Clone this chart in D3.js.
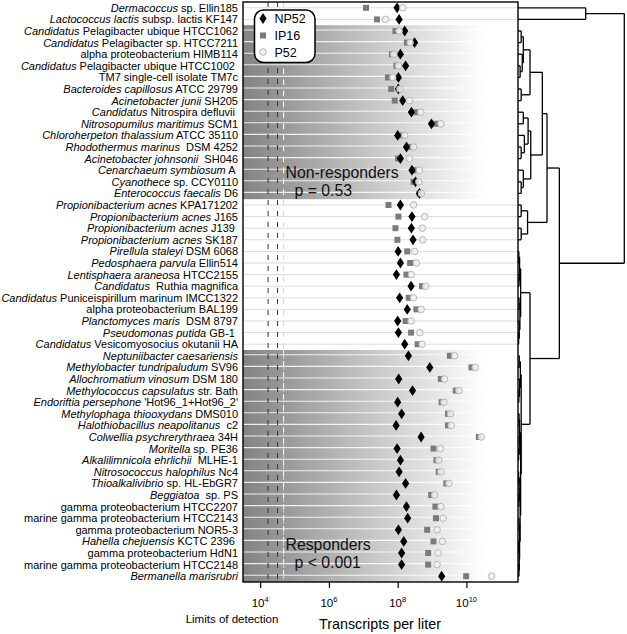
<!DOCTYPE html>
<html><head><meta charset="utf-8">
<script src="https://cdn.jsdelivr.net/npm/d3@7"></script>
<style>
body{margin:0;background:#fff;}
svg{display:block;font-family:"Liberation Sans",Arial,Helvetica,sans-serif;}
text{white-space:pre;}
</style>
</head><body>
<svg id="chart" width="627" height="634"></svg>
<script>
// ---------- data ----------
const labelItalic = [
 "Dermacoccus","Lactococcus lactis","Candidatus","Candidatus","",
 "Candidatus","","Bacteroides capillosus","Acinetobacter junii","Candidatus",
 "Nitrosopumilus maritimus","Chloroherpeton thalassium","Rhodothermus marinus","Acinetobacter johnsonii","Cenarchaeum symbiosum",
 "Cyanothece","Enterococcus faecalis","Propionibacterium acnes","Propionibacterium acnes","Propionibacterium acnes",
 "Propionibacterium acnes","Pirellula staleyi","Pedosphaera parvula","Lentisphaera araneosa","Candidatus",
 "Candidatus","","Planctomyces maris","Pseudomonas putida","Candidatus",
 "Neptuniibacter caesariensis","Methylobacter tundripaludum","Allochromatium vinosum","Methylococcus capsulatus","Endoriftia persephone",
 "Methylophaga thiooxydans","Halothiobacillus neapolitanus","Colwellia psychrerythraea","Moritella","Alkalilimnicola ehrlichii",
 "Nitrosococcus halophilus","Thioalkalivibrio","Beggiatoa","","",
 "","Hahella chejuensis","","","Bermanella marisrubri"
];
const labelRoman = [
 " sp. Ellin185"," subsp. lactis KF147"," Pelagibacter ubique HTCC1062"," Pelagibacter sp. HTCC7211","alpha proteobacterium HIMB114",
 " Pelagibacter ubique HTCC1002 ","TM7 single-cell isolate TM7c"," ATCC 29799"," SH205"," Nitrospira defluvii ",
 " SCM1"," ATCC 35110","  DSM 4252","  SH046"," A ",
 " sp. CCY0110"," D6"," KPA171202"," J165"," J139 ",
 " SK187"," DSM 6068"," Ellin514"," HTCC2155","  Ruthia magnifica",
 " Puniceispirillum marinum IMCC1322","alpha proteobacterium BAL199","  DSM 8797"," GB-1 "," Vesicomyosocius okutanii HA",
 ""," SV96"," DSM 180"," str. Bath"," 'Hot96_1+Hot96_2'",
 " DMS010","  c2"," 34H"," sp. PE36","  MLHE-1",
 " Nc4"," sp. HL-EbGR7","  sp. PS","gamma proteobacterium HTCC2207","marine gamma proteobacterium HTCC2143",
 "gamma proteobacterium NOR5-3"," KCTC 2396 ","gamma proteobacterium HdN1","marine gamma proteobacterium HTCC2148",""
];
const seriesNames = ["NP52","IP16","P52"];
const np52 = [
 9.6e7,1.1e8,1.6e8,3.1e8,1.2e8,1.7e8,1.05e8,1.05e8,1.4e8,2.5e8,
 9.6e8,1.0e8,1.8e8,1.2e8,2.6e8,3.3e8,4.3e8,1.2e8,2.6e8,2.5e8,
 2.8e8,1.03e8,1.2e8,9.2e7,2.45e8,1.14e8,1.9e8,1.0e8,1.05e8,1.6e8,
 2.05e8,8.6e8,1.07e8,2.7e8,1.0e8,1.3e8,9.0e7,4.8e8,9.6e7,1.2e8,
 1.1e8,1.7e8,9.2e7,1.8e8,1.95e8,1.05e8,1.5e8,1.3e8,1.3e8,1.9e9
];
const ip16 = [
 1.2e7,2.5e7,8.6e7,1.85e8,6.8e7,9.2e7,5.2e7,6.5e7,8.2e7,3.3e8,
 1.3e9,1.3e8,2.5e8,1.03e8,2.9e8,2.9e8,4.3e8,5.4e7,1.05e8,8.6e7,
 9.8e7,1.9e8,2.3e8,1.8e8,5.1e8,2.1e8,3.5e8,1.7e8,2.45e8,3.8e8,
 3.3e9,1.4e10,1.8e9,4.9e9,1.9e9,2.9e9,2.9e9,2.3e10,1.1e9,1.34e9,
 1.56e9,2.6e9,9.4e8,1.25e9,1.3e9,7.2e8,1.1e9,7.7e8,7.7e8,9.8e9
];
const p52 = [
 1.4e8,4.4e7,1.1e8,2.3e8,7.7e7,1.05e8,7.2e7,1.16e8,2.2e8,4.7e8,
 1.8e9,1.6e8,2.9e8,2.2e8,4.3e8,4.1e8,4.9e8,2.9e8,6.1e8,5.2e8,
 5.3e8,3.1e8,3.5e8,2.5e8,6.5e8,2.85e8,4.8e8,2.45e8,4.4e8,5.1e8,
 4.5e9,1.8e10,2.3e9,6.0e9,2.2e9,3.4e9,3.6e9,2.7e10,1.75e9,1.56e9,
 1.8e9,3.1e9,1.17e9,1.8e9,2.1e9,1.4e9,2.0e9,1.5e9,1.4e9,5.4e10
];
const groupNames = ["Non-responders","Responders"];
const groupP = ["p = 0.53","p < 0.001"];
const groupFirst = [2,30];
const groupLast = [16,49];
const tickValues = [1e4,1e6,1e8,1e10];
const tickExponents = ["4","6","8","10"];
const detectionLimits = [1.7e4,3.2e4,4.8e4];
// dendrogram: [height, child, child...]; integers are row indices
const tree = [1.0,
  [0.637, 0, 1],
  [0.389,
    [0.273,
      [0.229,
        [0.113,
          [0.05, [0.03, 2, 3], [0.04, 4, [0.02, 5, 6]]],
          [0.03, 7, 8]],
        [0.12,
          [0.095, [0.05, 9, 10], [0.06, 11, [0.03, 12, 13]]],
          [0.05, 14, [0.03, 15, 16]]]],
      [0.09, [0.03, 17, 18], [0.03, 19, 20]]],
    [0.113,
      [0.025, [0.015, [0.008, 21, 22], [0.01, 23, 24]], [0.018, [0.01, 25, 26], [0.012, 27, [0.006, 28, 29]]]],
      [0.03,
        [0.022, [0.012, 30, 31], [0.015, 32, [0.008, 33, 34]]],
        [0.025,
          [0.015, [0.01, 35, 36], [0.012, 37, [0.006, 38, 39]]],
          [0.02, [0.012, [0.006, 40, 41], [0.008, 42, 43]],
                 [0.015, [0.01, 44, 45], [0.012, [0.006, 46, 47], [0.009, 48, 49]]]]]]]]];

// ---------- layout ----------
const L = 243, R = 518, T = 2, B = 582;
const svg = d3.select("#chart");
const n = labelRoman.length;

const x = d3.scaleLog().domain([Math.pow(10,3.5), Math.pow(10,11.5)]).range([L,R]);
const y = d3.scaleBand().domain(d3.range(n)).range([T,B]);
const yc = i => y(i) + y.bandwidth()/2;
const xTree = d3.scaleLinear().domain([0,1]).range([R, 624.3]);

const defs = svg.append("defs");
const grad = defs.append("linearGradient").attr("id","fade")
  .attr("gradientUnits","userSpaceOnUse").attr("x1",L).attr("x2",R).attr("y1",0).attr("y2",0);
grad.append("stop").attr("offset",0).attr("stop-color","#838383");
grad.append("stop").attr("offset",0.45).attr("stop-color","#c4c4c4");
grad.append("stop").attr("offset",0.88).attr("stop-color","#ffffff");

// row lines (white area)
svg.append("g").selectAll("line").data(d3.range(n)).join("line")
  .attr("x1",L).attr("x2",R).attr("y1",yc).attr("y2",yc)
  .attr("stroke","#dcdcdc").attr("stroke-width",1);

// gradient bands
const inGroup = i => groupFirst.some((f,k)=> i>=f && i<=groupLast[k]);
groupFirst.forEach((f,k)=>{
  svg.append("rect").attr("x",L).attr("width",R-L)
    .attr("y",y(f)).attr("height",y(groupLast[k])+y.bandwidth()-y(f))
    .attr("fill","url(#fade)");
});
svg.append("g").selectAll("line").data(d3.range(n).filter(inGroup)).join("line")
  .attr("x1",L).attr("x2",R).attr("y1",d=>yc(d)-1).attr("y2",d=>yc(d)-1)
  .attr("stroke","#ffffff").attr("stroke-opacity",0.85).attr("stroke-width",1.1);

// detection limit dashed lines
detectionLimits.forEach((v,k)=>{
  svg.append("line").attr("x1",x(v)).attr("x2",x(v)).attr("y1",T).attr("y2",B)
    .attr("stroke", k<2 ? "#333" : "#d4d4d4").attr("stroke-width",1)
    .attr("stroke-dasharray","5,6");
  if(k===2){
    groupFirst.forEach((f,g)=>{
      svg.append("line").attr("x1",x(v)).attr("x2",x(v))
        .attr("y1",y(f)).attr("y2",y(groupLast[g])+y.bandwidth())
        .attr("stroke","#ffffff").attr("stroke-width",1).attr("stroke-dasharray","5,6");
    });
  }
});

// group annotations
groupFirst.forEach((f,k)=>{
  const yb = k===0 ? yc(14)+8 : yc(46)+8.5;
  svg.append("text").attr("x",285.5).attr("y",yb).attr("font-size",15.8).attr("fill","#111").text(groupNames[k]);
  svg.append("text").attr("x",294.5).attr("y",yb+18).attr("font-size",15.8).attr("fill","#111").text(groupP[k]);
});

// markers
const diamond = "M0,-5.4L3.6,0L0,5.4L-3.6,0Z";
const gM = svg.append("g");
gM.selectAll("rect.sq").data(ip16).join("rect").attr("class","sq")
  .attr("x",d=>x(d)-3).attr("y",(d,i)=>yc(i)-3).attr("width",6).attr("height",6)
  .attr("fill","#7b7b7b");
gM.selectAll("path.dm").data(np52).join("path").attr("class","dm")
  .attr("d",diamond).attr("transform",(d,i)=>`translate(${x(d)},${yc(i)})`).attr("fill","#000");
gM.selectAll("circle.ci").data(p52).join("circle").attr("class","ci")
  .attr("cx",d=>x(d)).attr("cy",(d,i)=>yc(i)).attr("r",3.3)
  .attr("fill","#f0f0f0").attr("fill-opacity",0.9).attr("stroke","#b0b0b0").attr("stroke-width",0.9);

// frame
svg.append("rect").attr("x",L).attr("y",T).attr("width",R-L).attr("height",B-T)
  .attr("fill","none").attr("stroke","#000").attr("stroke-width",1.4);

// axis
const axis = d3.axisBottom(x).tickValues(tickValues).tickSize(6).tickFormat("");
const gA = svg.append("g").attr("transform",`translate(0,${B})`).call(axis);
gA.select(".domain").remove();
gA.selectAll(".tick line").attr("stroke","#000").attr("stroke-width",1.2);
tickValues.forEach((v,k)=>{
  const t = svg.append("text").attr("x",x(v)).attr("y",606.5).attr("text-anchor","middle").attr("font-size",11.5);
  t.append("tspan").text("10");
  t.append("tspan").attr("dy",-4.5).attr("font-size",7.5).text(tickExponents[k]);
});
svg.append("text").attr("x",232).attr("y",622.5).attr("text-anchor","middle").attr("font-size",11.5).text("Limits of detection");
svg.append("text").attr("x",380).attr("y",628.5).attr("text-anchor","middle").attr("font-size",14.3).text("Transcripts per liter");

// row labels
const gL = svg.append("g");
d3.range(n).forEach(i=>{
  const t = gL.append("text").attr("x",238).attr("y",yc(i)+4).attr("text-anchor","end").attr("font-size",11).attr("fill","#000");
  if(labelItalic[i]) t.append("tspan").attr("font-style","italic").text(labelItalic[i]);
  if(labelRoman[i]) t.append("tspan").text(labelRoman[i]);
});

// legend
const lg = svg.append("g");
lg.append("rect").attr("x",254.5).attr("y",10).attr("width",60.5).attr("height",52.5).attr("rx",9)
  .attr("fill","#fff").attr("stroke","#000").attr("stroke-width",1.5);
const ly = [18.5,35.5,52];
seriesNames.forEach((s,k)=>{
  if(k===0) lg.append("path").attr("d",diamond).attr("transform",`translate(263,${ly[k]})`).attr("fill","#000");
  if(k===1) lg.append("rect").attr("x",260).attr("y",ly[k]-3).attr("width",6).attr("height",6).attr("fill","#7b7b7b");
  if(k===2) lg.append("circle").attr("cx",263).attr("cy",ly[k]).attr("r",3.3).attr("fill","#f0f0f0").attr("stroke","#b0b0b0").attr("stroke-width",0.9);
  lg.append("text").attr("x",274.5).attr("y",ly[k]+4.5).attr("font-size",12.5).text(s);
});

// dendrogram
const gT = svg.append("g").attr("stroke","#000").attr("stroke-width",1.3).attr("fill","none");
function build(node){
  if(typeof node === "number") return {h:0, y:yc(node)};
  const kids = node.slice(1).map(build);
  const me = {h:node[0], y:(kids[0].y + kids[kids.length-1].y)/2};
  kids.forEach(c=>{
    gT.append("line").attr("x1",xTree(c.h)).attr("x2",xTree(me.h)).attr("y1",c.y).attr("y2",c.y);
  });
  gT.append("line").attr("x1",xTree(me.h)).attr("x2",xTree(me.h))
    .attr("y1",kids[0].y).attr("y2",kids[kids.length-1].y);
  return me;
}
build(tree);
</script>
</body></html>
